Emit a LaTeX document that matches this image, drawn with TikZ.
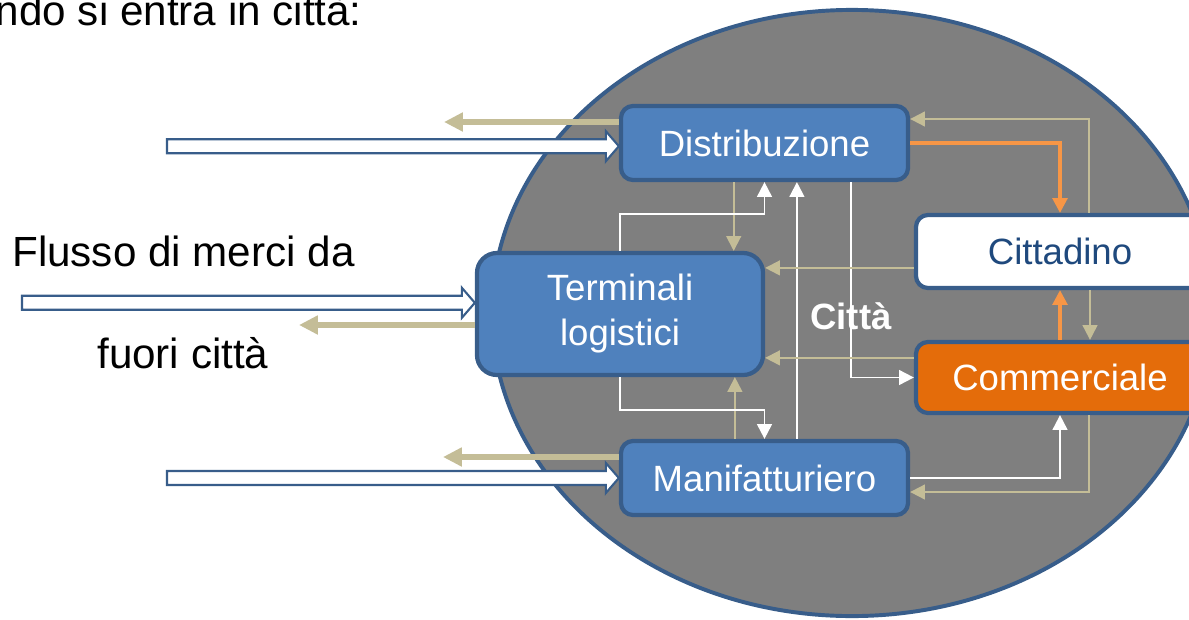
\documentclass[tikz,border=0pt]{standalone}
\usepackage{fontspec}
\setmainfont{Liberation Sans}
\usetikzlibrary{arrows.meta,calc}

\definecolor{cityfill}{RGB}{127,127,127}
\definecolor{boxfill}{RGB}{79,129,189}
\definecolor{boxline}{RGB}{56,93,138}
\definecolor{tanline}{RGB}{196,189,151}
\definecolor{orangeline}{RGB}{247,150,70}
\definecolor{orangefill}{RGB}{228,108,10}
\definecolor{darkblue}{RGB}{31,73,125}

% hollow arrow from the x of #1 to the point #2
\newcommand{\hollowarrow}[2]{%
  \draw[hollow] ($(#2 -| #1)+(0,-7)$) -- ($(#2)+(-13,-7)$) -- ($(#2)+(-13,-15)$) -- (#2)
    -- ($(#2)+(-13,15)$) -- ($(#2)+(-13,7)$) -- ($(#2 -| #1)+(0,7)$) -- cycle;}

\begin{document}
\begin{tikzpicture}[x=0.025cm, y=-0.025cm,
    box/.style={draw=boxline, line width=3pt, fill=boxfill, rounded corners=0.3cm, text=white,
      font=\fontsize{26}{32}\selectfont, minimum width=7.175cm, minimum height=1.85cm, inner sep=0pt, align=center},
    lbl/.style={font=\fontsize{30}{36}\selectfont, inner sep=0pt},
    flow/.style={line width=1.4pt, -{Triangle[length=0.37cm,width=0.37cm]}},
    whiteflow/.style={flow, draw=white},
    tanflow/.style={flow, draw=tanline},
    orangeflow/.style={flow, draw=orangeline, line width=2.3pt},
    outflow/.style={draw=tanline, line width=4.2pt, -{Triangle[length=0.47cm,width=0.45cm]}},
    hollow/.style={draw=boxline, line width=1.5pt, fill=white},
    city/.style={draw=boxline, line width=2.8pt, fill=cityfill}]
        \useasboundingbox (0,0) rectangle (1189,619);
        \draw[city] (852,313) ellipse [x radius=9cm, y radius=7.575cm];

        \node[lbl, anchor=base east] (intro) at (362,25) {ndo si entra in città:};
        \node[lbl, anchor=base west] (flusso) at (12,266) {Flusso di merci da};
        \node[lbl, anchor=base west] (fuori) at (97,368) {fuori città};

        \node[box] (dist) at (764.5,143) {Distribuzione};
        \node[box, minimum width=7.15cm, minimum height=3.05cm, rounded corners=0.5cm] (term) at (620,314) {Terminali\\logistici};
        \node[box] (manif) at (764.5,478) {Manifatturiero};
        \node[box, fill=white, text=darkblue, minimum width=7.2cm, minimum height=1.825cm] (citt) at (1060,251.5) {Cittadino};
        \node[box, fill=orangefill, minimum width=7.2cm, minimum height=1.775cm] (comm) at (1060,377.5) {Commerciale};
        \node[font=\bfseries\fontsize{26}{32}\selectfont, text=white, inner sep=0pt] (citta) at (851,316) {Città};

        \coordinate (inD) at (167,0);
        \coordinate (inT) at (22,0);
        \coordinate (inM) at (167,0);
        \coordinate (tipD) at ([yshift=-0.08cm]dist.west);
        \coordinate (tipT) at ([yshift=0.28cm]term.west);
        \coordinate (tipM) at (manif.west);
        \coordinate (outD) at (444,122);
        \coordinate (outT) at (299,325);
        \coordinate (outM) at (443,457);
        \coordinate (colB) at ([xshift=-0.77cm]dist.south);
        \coordinate (colB2) at ([xshift=-0.74cm]manif.north);
        \coordinate (rowC) at ([yshift=-0.41cm]citt.west);
        \coordinate (rowK) at ([yshift=0.49cm]comm.west);

        % flows from outside the city
        \draw[outflow] (outD -| dist.west) -- (outD);
        \draw[outflow] (outT -| term.west) -- (outT);
        \draw[outflow] (outM -| manif.west) -- (outM);
        \hollowarrow{inD}{tipD}
        \hollowarrow{inT}{tipT}
        \hollowarrow{inM}{tipM}

        % flows inside the city
        \draw[tanflow] (colB) -- (colB |- term.north);
        \draw[tanflow] (colB2) -- (colB2 |- term.south);
        \draw[whiteflow] (term.north) -- ++(0,-37) -| (dist.south);
        \draw[whiteflow] (term.south) -- ++(0,33) -| (manif.north);
        \draw[whiteflow] ([xshift=0.81cm]manif.north) -- ([xshift=0.81cm]dist.south);
        \draw[whiteflow] ([xshift=2.16cm]dist.south) |- (comm.west);
        \draw[tanflow] (rowC) -- (rowC -| term.east);
        \draw[tanflow] (rowK) -- (rowK -| term.east);
        \draw[whiteflow] (manif.east) -| (comm.south);
        \draw[tanflow] ([xshift=0.72cm]comm.south) |- ([yshift=-0.35cm]manif.east);
        \draw[tanflow] ([xshift=0.72cm]citt.north) |- ([yshift=0.6cm]dist.east);
        \draw[orangeflow] (dist.east) -| (citt.north);
        \draw[orangeflow] (comm.north) -- (citt.south);
        \draw[tanflow] ([xshift=0.75cm]citt.south) -- ([xshift=0.75cm]comm.north);
\end{tikzpicture}
\end{document}
